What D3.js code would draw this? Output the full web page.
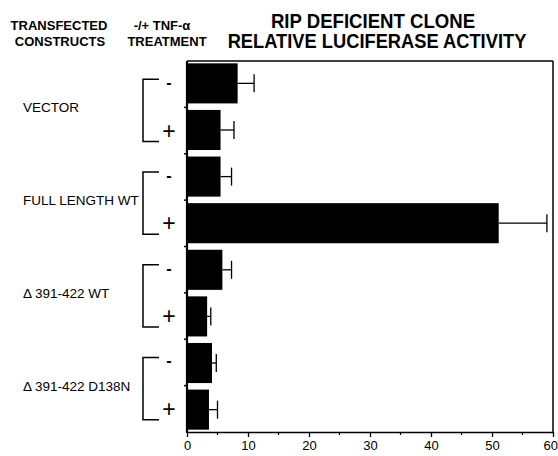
<!DOCTYPE html>
<html>
<head>
<meta charset="utf-8">
<script src="https://cdn.jsdelivr.net/npm/d3@7"></script>
<style>
  body { margin: 0; background: #fff; }
  svg { display: block; font-family: "Liberation Sans", Arial, sans-serif; }
</style>
</head>
<body>
<div id="chart"></div>
<script>
// constructs and their -/+ TNF treatment values
let constructs = ['VECTOR', 'FULL LENGTH WT', '\u0394 391-422 WT', '\u0394 391-422 D138N'];
let treatments = ['-', '+'];
let values = [8.3, 5.5, 5.5, 51.1, 5.8, 3.3, 4.1, 3.6];
let errors = [2.7, 2.2, 1.8, 7.9, 1.5, 0.6, 0.7, 1.4];
let xTicks = [0, 10, 20, 30, 40, 50, 60];

let rows = [];
constructs.forEach((c, i) => {
    treatments.forEach((t, j) => {
        let k = i * 2 + j;
        rows.push({ id: k, construct: c, sign: t, value: values[k], err: errors[k] });
    });
});

var W = 558, H = 456;
var mLeft = 187, mRight = 553, mTop = 61, mBottom = 432;

var svg = d3.select('#chart').append('svg').attr('width', W).attr('height', H);

var x = d3.scaleLinear().domain([0, 60]).range([mLeft, mRight]);
var y = d3.scaleBand().domain(rows.map(d => d.id)).range([mTop, mBottom]).paddingInner(0.14).paddingOuter(0.05);
var band = d3.scaleBand().domain(rows.map(d => d.id)).range([mTop, mBottom]);

// headers
var hdr = svg.append('g').attr('font-weight', 'bold').attr('fill', '#000');
hdr.append('text').attr('x', 59).attr('y', 30).attr('text-anchor', 'middle').attr('font-size', 13).text('TRANSFECTED');
hdr.append('text').attr('x', 60).attr('y', 46).attr('text-anchor', 'middle').attr('font-size', 13).text('CONSTRUCTS');
hdr.append('text').attr('x', 162).attr('y', 30).attr('text-anchor', 'middle').attr('font-size', 13).text('-/+ TNF-\u03b1');
hdr.append('text').attr('x', 167).attr('y', 46).attr('text-anchor', 'middle').attr('font-size', 13).text('TREATMENT');
// big title, slightly condensed like the original typeface
hdr.append('text').attr('transform', 'translate(373,28) scale(0.93,1)')
    .attr('text-anchor', 'middle').attr('font-size', 20).text('RIP DEFICIENT CLONE');
hdr.append('text').attr('transform', 'translate(377,48) scale(0.915,1)')
    .attr('text-anchor', 'middle').attr('font-size', 20).text('RELATIVE LUCIFERASE ACTIVITY');

// bars
svg.append('g').selectAll('rect').data(rows).enter().append('rect')
    .attr('x', x(0))
    .attr('y', d => y(d.id))
    .attr('width', d => x(d.value) - x(0))
    .attr('height', y.bandwidth())
    .attr('fill', '#000');

// error bars
var eb = svg.append('g').attr('stroke', '#000').attr('stroke-width', 1.3);
eb.selectAll('line.h').data(rows).enter().append('line').attr('class', 'h')
    .attr('x1', d => x(d.value)).attr('x2', d => x(d.value + d.err))
    .attr('y1', d => y(d.id) + y.bandwidth() / 2).attr('y2', d => y(d.id) + y.bandwidth() / 2);
eb.selectAll('line.cap').data(rows).enter().append('line').attr('class', 'cap')
    .attr('x1', d => x(d.value + d.err)).attr('x2', d => x(d.value + d.err))
    .attr('y1', d => y(d.id) + y.bandwidth() / 2 - 9).attr('y2', d => y(d.id) + y.bandwidth() / 2 + 9);

// frame
var frame = svg.append('g').attr('stroke', '#000').attr('fill', 'none');
frame.append('line').attr('x1', mLeft).attr('x2', mRight).attr('y1', mTop).attr('y2', mTop).attr('stroke-width', 1.5);
frame.append('line').attr('x1', mRight).attr('x2', mRight).attr('y1', mTop).attr('y2', mBottom).attr('stroke-width', 1.5);
frame.append('line').attr('x1', mLeft).attr('x2', mLeft).attr('y1', mTop).attr('y2', mBottom + 1).attr('stroke-width', 2.2);

// left ticks at band edges
frame.selectAll('line.yt').data(rows.slice(1)).enter().append('line').attr('class', 'yt')
    .attr('x1', mLeft - 3).attr('x2', mLeft)
    .attr('y1', d => band(d.id)).attr('y2', d => band(d.id)).attr('stroke-width', 1.5);

// bottom axis
var xAxis = d3.axisBottom(x).tickValues(xTicks).tickSize(5).tickSizeOuter(0).tickFormat(d3.format('d'));
var gx = svg.append('g').attr('transform', 'translate(0,' + mBottom + ')').call(xAxis);
gx.select('.domain').attr('stroke-width', 1.5);
gx.selectAll('.tick line').attr('stroke-width', 1.3);
gx.selectAll('.tick text').attr('font-size', 13).attr('font-family', '"Liberation Sans", Arial, sans-serif').attr('dy', '0.55em').attr('y', 11);
// last label sits at the page edge, pull it in so it stays whole
gx.selectAll('.tick text').filter(d => d === 60).attr('text-anchor', 'end').attr('dx', 4.5);
var minor = d3.range(5, 60, 10);
gx.selectAll('line.minor').data(minor).enter().append('line').attr('class', 'minor')
    .attr('x1', d => x(d)).attr('x2', d => x(d)).attr('y1', 0).attr('y2', 3)
    .attr('stroke', '#000').attr('stroke-width', 1.2);

// brackets, signs and construct labels
constructs.forEach((c, i) => {
    var c1 = band(i * 2) + band.bandwidth() / 2;
    var c2 = band(i * 2 + 1) + band.bandwidth() / 2;
    var yTop = c1 - 5, yBot = c2 + 11;
    svg.append('path')
        .attr('d', 'M159,' + yTop + 'H143V' + yBot + 'H159')
        .attr('fill', 'none').attr('stroke', '#000').attr('stroke-width', 1.5);
    svg.append('text').attr('x', 23).attr('y', (c1 + c2) / 2 + 5)
        .attr('font-size', 13.5).text(c);
});

svg.append('g').selectAll('text').data(rows).enter().append('text')
    .attr('x', 169)
    .attr('y', d => d.sign === '-' ? band(d.id) + band.bandwidth() / 2 + 4 : band(d.id) + band.bandwidth() / 2 + 8)
    .attr('text-anchor', 'middle')
    .attr('font-size', d => d.sign === '-' ? 16 : 23)
    .attr('font-weight', d => d.sign === '-' ? 'bold' : 'normal')
    .text(d => d.sign);
</script>
</body>
</html>
